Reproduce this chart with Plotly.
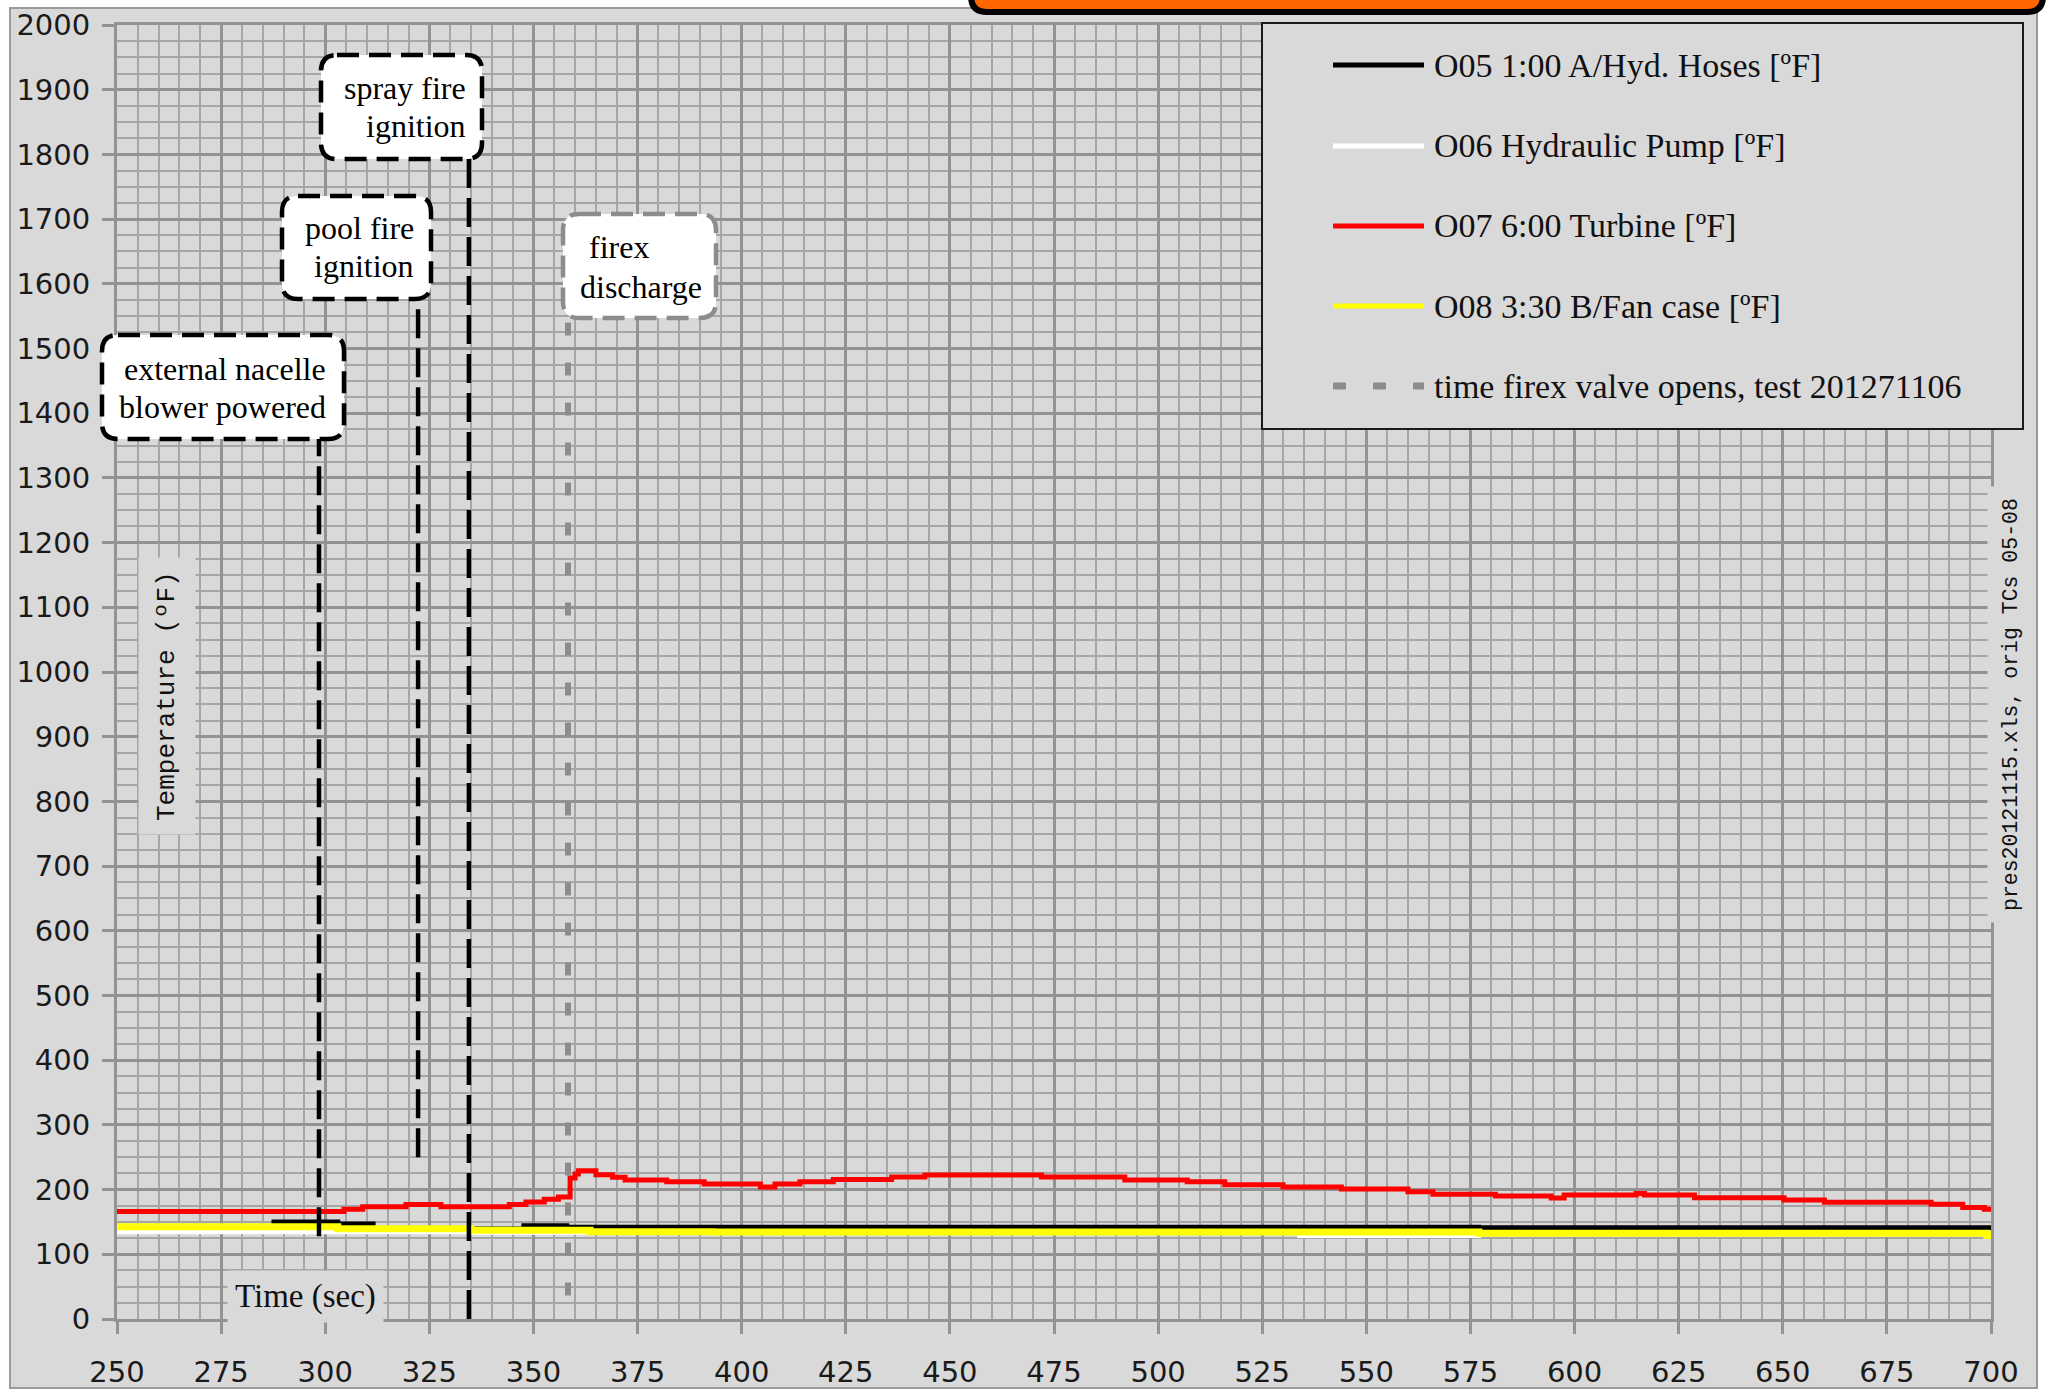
import plotly.graph_objects as go

# ---------------- data ----------------
# Step-sampled thermocouple readings: time (s) and temperature (ºF)
o05_time = [250, 287.7, 303, 311.5, 347.7, 358, 577, 700]
o05_temp = [142, 150, 147, 139, 144, 142, 141, 141]

o06_time = [250, 335, 393, 534, 577, 700]
o06_temp = [135, 134, 134, 129, 131, 131]

o07_time = [250, 304.5, 309, 319.4, 327.8, 344.2, 348.2, 352.6, 356, 358.8, 360, 360.8,
            365, 369, 372, 382, 391, 404.5, 408, 414, 422, 436, 444, 472, 492, 507,
            516, 530, 544, 560, 566, 581, 594.4, 597.5, 614.8, 616.8, 628.8, 650.3,
            660, 685.6, 693.2, 698.4, 700]
o07_temp = [166, 169.5, 173.5, 177, 173.5, 177, 181, 185, 188.5, 218, 224, 229,
            223, 219, 215, 212, 208.5, 204, 208.5, 212, 215.5, 219.5, 222.5, 219.5, 215, 212,
            207.5, 204, 201, 196.5, 193, 190, 187, 191.5, 194, 191.5, 187.5, 184,
            180.5, 177.5, 172.5, 169.5, 169.5]

o08_time = [250, 303, 335, 363.6, 393, 577, 699, 700]
o08_temp = [142.5, 139.5, 137, 135, 134.5, 132.5, 129, 129]

firex_time = [358.3, 358.3]
firex_temp = [1540, 0]

series_names = [
    "O05 1:00 A/Hyd. Hoses [ºF]",
    "O06 Hydraulic Pump [ºF]",
    "O07 6:00 Turbine [ºF]",
    "O08 3:30 B/Fan case [ºF]",
    "time firex valve opens, test 201271106",
]
series_colors = ["#000000", "#ffffff", "#ff0000", "#ffff00", "#8c8c8c"]

# Event markers: time (s), temperature where the callout line ends
event_times = [298.5, 322.3, 334.5]
event_ends = [128, 250, 0]
event_lines = [["external nacelle", "blower powered"],
               ["pool fire", "ignition"],
               ["spray fire", "ignition"]]
firex_lines = ["firex", "discharge"]

x_ticks = list(range(250, 701, 25))
y_ticks = list(range(0, 2001, 100))

# ---------------- geometry ----------------
W, H = 2049, 1392
ML, MR, MT, MB = 117, 58, 25, 73
PW, PH = W - ML - MR, H - MT - MB
X0, X1, Y0, Y1 = 250, 700, 0, 2000

BG = "#d9d9d9"
GRID_MAJOR = "#939393"
GRID_MINOR = "#a6a6a6"


def px(x):
    """pixel column -> paper x"""
    return (x - ML) / PW


def py(y):
    """pixel row (from top) -> paper y"""
    return (H - MB - y) / PH


def row_to_temp(y):
    return Y0 + (H - MB - y) / PH * (Y1 - Y0)


def rounded_path(x0, y0, x1, y1, r):
    p = [
        f"M {px(x0 + r)},{py(y0)}",
        f"L {px(x1 - r)},{py(y0)}",
        f"Q {px(x1)},{py(y0)} {px(x1)},{py(y0 + r)}",
        f"L {px(x1)},{py(y1 - r)}",
        f"Q {px(x1)},{py(y1)} {px(x1 - r)},{py(y1)}",
        f"L {px(x0 + r)},{py(y1)}",
        f"Q {px(x0)},{py(y1)} {px(x0)},{py(y1 - r)}",
        f"L {px(x0)},{py(y0 + r)}",
        f"Q {px(x0)},{py(y0)} {px(x0 + r)},{py(y0)}",
        "Z",
    ]
    return " ".join(p)


fig = go.Figure()

series = [(o05_time, o05_temp, 5), (o06_time, o06_temp, 5),
          (o07_time, o07_temp, 5), (o08_time, o08_temp, 7)]
for (t, v, w), name, col in zip(series, series_names[:4], series_colors[:4]):
    fig.add_trace(go.Scatter(x=t, y=v, mode="lines", name=name,
                             line=dict(color=col, width=w, shape="hv"),
                             showlegend=False, hoverinfo="skip"))

fig.add_trace(go.Scatter(x=firex_time, y=firex_temp, mode="lines", name=series_names[4],
                         line=dict(color=series_colors[4], width=6, dash="13px,27px"),
                         showlegend=False, hoverinfo="skip"))

shapes = []
annotations = []

# chart area background and frame
shapes.append(dict(type="rect", xref="paper", yref="paper", layer="below",
                   x0=px(10), x1=px(2037), y0=py(1388), y1=py(8),
                   fillcolor=BG, line=dict(color="#9a9a9a", width=2)))

# orange banner along the top edge
shapes.append(dict(type="path", xref="paper", yref="paper", layer="above",
                   path=rounded_path(971, -70, 2043, 12, 16),
                   fillcolor="#ff6600", line=dict(color="#000000", width=6)))

# event callout boxes + leader lines
boxes = [(102, 335, 344, 439), (282, 196, 431, 299), (321, 55, 482, 159)]
text_right = [328, 416, 468]
text_rows = [(369, 407), (228, 266), (88, 126)]
for (bx0, by0, bx1, by1), t_ev, t_end, lines, tr, rows in zip(
        boxes, event_times, event_ends, event_lines, text_right, text_rows):
    shapes.append(dict(type="line", xref="x", yref="y", layer="above",
                       x0=t_ev, x1=t_ev, y0=t_end, y1=row_to_temp(by1),
                       line=dict(color="#000000", width=4.5, dash="29px,10px")))
    shapes.append(dict(type="path", xref="paper", yref="paper", layer="above",
                       path=rounded_path(bx0, by0, bx1, by1, 16),
                       fillcolor="#ffffff", line=dict(color="#000000", width=4.5, dash="22px,10px")))
    for txt, ry in zip(lines, rows):
        annotations.append(dict(text=txt, xref="paper", yref="paper", x=px(tr), y=py(ry),
                                xanchor="right", yanchor="middle", showarrow=False,
                                font=dict(family="Liberation Serif", size=32, color="#000000")))

# firex discharge callout
shapes.append(dict(type="path", xref="paper", yref="paper", layer="above",
                   path=rounded_path(563, 214, 716, 318, 16),
                   fillcolor="#ffffff", line=dict(color="#8c8c8c", width=4.5, dash="22px,10px")))
for txt, lx, ry in zip(firex_lines, [587, 578], [247, 287]):
    annotations.append(dict(text=txt, xref="paper", yref="paper", x=px(lx), y=py(ry),
                            xanchor="left", yanchor="middle", showarrow=False,
                            font=dict(family="Liberation Serif", size=32, color="#000000")))

# legend panel
shapes.append(dict(type="rect", xref="paper", yref="paper", layer="above",
                   x0=px(1262), x1=px(2023), y0=py(429), y1=py(23),
                   fillcolor=BG, line=dict(color="#1a1a1a", width=2)))
legend_rows = [65, 146, 226, 306, 386]
for i, (name, col, ry) in enumerate(zip(series_names, series_colors, legend_rows)):
    is_dash = i == 4
    shapes.append(dict(type="line", xref="paper", yref="paper", layer="above",
                       x0=px(1333), x1=px(1424), y0=py(ry), y1=py(ry),
                       line=dict(color=col, width=7 if is_dash else 5,
                                 dash="13px,27px" if is_dash else "solid")))
    annotations.append(dict(text=name, xref="paper", yref="paper", x=px(1432), y=py(ry),
                            xanchor="left", yanchor="middle", showarrow=False,
                            font=dict(family="Liberation Serif", size=34, color="#111111")))

# axis titles drawn inside the plotting area
annotations.append(dict(text="Temperature (ºF)", xref="paper", yref="paper",
                        x=px(167), y=py(696), textangle=-90, showarrow=False,
                        xanchor="center", yanchor="middle", bgcolor=BG, borderpad=13,
                        font=dict(family="Liberation Mono", size=26, color="#111111")))
annotations.append(dict(text="Time (sec)", xref="paper", yref="paper",
                        x=px(305), y=py(1296), showarrow=False,
                        xanchor="center", yanchor="middle", bgcolor=BG, borderpad=7,
                        font=dict(family="Liberation Serif", size=33, color="#111111")))
annotations.append(dict(text="pres20121115.xls, orig TCs 05-08", xref="paper", yref="paper",
                        x=px(2011), y=py(705), textangle=-90, showarrow=False,
                        xanchor="center", yanchor="middle", bgcolor=BG, borderpad=11,
                        font=dict(family="Liberation Mono", size=21.5, color="#111111")))

axis_common = dict(
    automargin=False,
    showgrid=True, gridcolor=GRID_MAJOR, gridwidth=3,
    showline=True, linecolor=GRID_MAJOR, linewidth=3, mirror=True,
    ticks="outside", ticklen=12, tickwidth=3, tickcolor=GRID_MAJOR,
    zeroline=False,
    tickfont=dict(family="DejaVu Sans", size=29, color="#1a1a1a"),
)

fig.update_layout(
    width=W, height=H, autosize=False,
    margin=dict(l=ML, r=MR, t=MT, b=MB, pad=0),
    paper_bgcolor="#ffffff", plot_bgcolor=BG,
    showlegend=False,
    shapes=shapes, annotations=annotations,
    xaxis=dict(range=[X0, X1], tickvals=x_ticks, ticklabelstandoff=13,
               minor=dict(tick0=250, dtick=5, showgrid=True, gridcolor=GRID_MINOR, gridwidth=2),
               **axis_common),
    yaxis=dict(range=[Y0, Y1], tickvals=y_ticks, ticklabelstandoff=6,
               minor=dict(tick0=0, dtick=25, showgrid=True, gridcolor=GRID_MINOR, gridwidth=2),
               **axis_common),
)

fig.write_html("out.html")
